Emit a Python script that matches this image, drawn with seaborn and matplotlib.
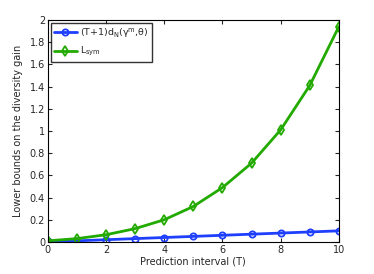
import matplotlib
matplotlib.use("Agg")
import matplotlib.pyplot as plt
import seaborn as sns
import pandas as pd

T = [0, 1, 2, 3, 4, 5, 6, 7, 8, 9, 10]
dn_bound = [0.005, 0.01, 0.02, 0.03, 0.04, 0.05, 0.06, 0.07, 0.08, 0.09, 0.10]
l_sym = [0.01, 0.03, 0.065, 0.12, 0.20, 0.32, 0.49, 0.71, 1.01, 1.41, 1.94]
labels = [r'(T+1)d$_\mathrm{N}$($\gamma^\mathrm{m}$,$\theta$)', r'L$_\mathrm{sym}$']

sns.set_style('ticks')
plt.rcParams['font.family'] = ['DejaVu Sans']
plt.rcParams['mathtext.default'] = 'regular'

fig = plt.figure(figsize=(3.74, 2.74), dpi=100)
ax = fig.add_axes([0.128, 0.117, 0.778, 0.81])

df = pd.DataFrame({'T': T, 'a': dn_bound, 'b': l_sym})
sns.lineplot(data=df, x='T', y='a', ax=ax, color='#1f3fff', marker='o', markersize=4.5,
             markerfacecolor='none', markeredgecolor='#1f3fff', markeredgewidth=1.3,
             linewidth=2, label=labels[0])
sns.lineplot(data=df, x='T', y='b', ax=ax, color='#22aa00', marker='d', markersize=5,
             markerfacecolor='none', markeredgecolor='#22aa00', markeredgewidth=1.3,
             linewidth=2, label=labels[1])

ax.set_xlim(0, 10)
ax.set_ylim(0, 2)
ax.set_xticks(range(0, 11, 2))
ax.set_yticks([0, 0.2, 0.4, 0.6, 0.8, 1, 1.2, 1.4, 1.6, 1.8, 2])
ax.set_yticklabels(['0', '0.2', '0.4', '0.6', '0.8', '1', '1.2', '1.4', '1.6', '1.8', '2'])
ax.tick_params(direction='in', length=3, labelsize=7, top=True, right=True, pad=2)
ax.set_xlabel('Prediction interval (T)', fontsize=7, labelpad=1)
ax.set_ylabel('Lower bounds on the diversity gain', fontsize=7, labelpad=5)
for s in ax.spines.values():
    s.set_linewidth(0.8)
    s.set_color('black')

ax.legend(loc='upper left', fontsize=6.8, frameon=True, fancybox=False, edgecolor='black',
          handlelength=2.4, handletextpad=0.4, borderpad=0.35, labelspacing=0.55,
          borderaxespad=0.3)

fig.savefig('out.png', dpi=100)
